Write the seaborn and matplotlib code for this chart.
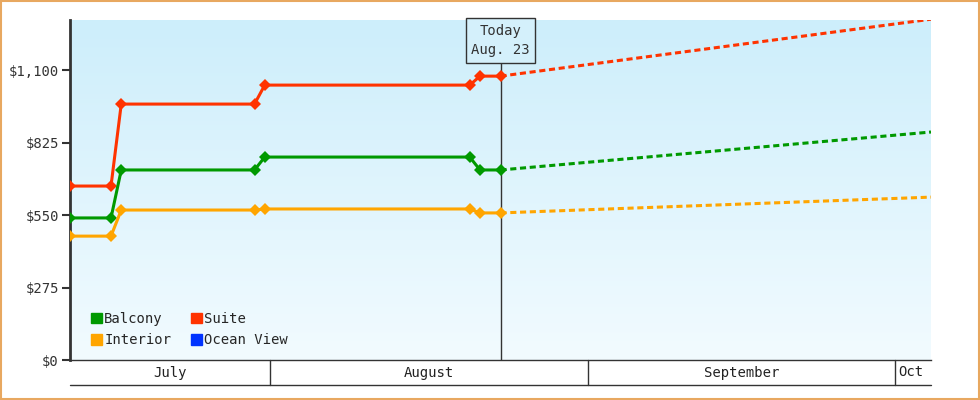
import numpy as np
import pandas as pd
import seaborn as sns
import matplotlib.pyplot as plt
from matplotlib.patches import Rectangle

# days since Aug 1 (+0.5 to center on day)
days = [-20, -16, -15, -2, -1, 19, 20, 22]
suite = [660, 660, 971, 971, 1043, 1043, 1077, 1077]
balcony = [539, 539, 721, 721, 770, 770, 721, 721]
interior = [470, 470, 569, 569, 573, 573, 558, 558]
proj_days = [22, 64]
proj_suite = [1077, 1293]
proj_balcony = [721, 865]
proj_interior = [558, 618]

months = ["July", "August", "September", "Oct"]
month_edges = [-20, 0, 31, 61, 64]
yticks = [0, 275, 550, 825, 1100]

colors = {"Balcony": "#009900", "Interior": "#ffa500", "Suite": "#ff3300", "Ocean View": "#0033ff"}

sns.set_style("white")
plt.rcParams["font.family"] = ["DejaVu Sans Mono"]

df = pd.DataFrame({"day": np.array(days) + 0.5, "Suite": suite,
                   "Balcony": balcony, "Interior": interior})
long = df.melt("day", var_name="cabin", value_name="price")
proj = pd.DataFrame({"day": np.array(proj_days) + 0.5, "Suite": proj_suite,
                     "Balcony": proj_balcony, "Interior": proj_interior})
proj_long = proj.melt("day", var_name="cabin", value_name="price")

fig = plt.figure(figsize=(9.8, 4), dpi=100)
fig.patches.append(Rectangle((0.001, 0.002), 0.998, 0.996, transform=fig.transFigure,
                             fill=False, edgecolor="#e8a860", linewidth=1.5))
ax = fig.add_axes([70 / 980, 40 / 400, 861 / 980, 340 / 400])
x0, x1 = -19.5, 64.5
ymax = 1290
ax.set_xlim(x0, x1)
ax.set_ylim(0, ymax)

grad = np.linspace(1, 0, 256).reshape(-1, 1)
bg = np.array([205, 238, 251]) / 255 * grad[..., None] + np.array([242, 251, 255]) / 255 * (1 - grad[..., None])
ax.imshow(bg, extent=[x0, x1, 0, ymax], aspect="auto", zorder=0)

sns.lineplot(data=proj_long, x="day", y="price", hue="cabin", palette=colors,
             linestyle=(0, (2, 1.2)), linewidth=2.2, legend=False, ax=ax, zorder=2)
sns.lineplot(data=long, x="day", y="price", hue="cabin", palette=colors,
             marker="D", markersize=6, markeredgewidth=0, linewidth=2.2,
             legend=False, ax=ax, zorder=3)

ax.axvline(22.5, color="#333333", linewidth=1, zorder=1)
ax.text(22.5, 1213, "Today\nAug. 23", ha="center", va="center", fontsize=10, color="#333333",
        linespacing=1.5,
        bbox=dict(boxstyle="square,pad=0.4", facecolor="#d4f0fb", edgecolor="#333333", linewidth=1))

ax.set_yticks(yticks)
ax.set_yticklabels([f"${v:,}" for v in yticks], fontsize=10, color="#333333")
ax.set_xticks([])
ax.tick_params(axis="y", direction="out", length=6, width=1.5, color="#333333", pad=2, left=True)
ax.set_xlabel("")
ax.set_ylabel("")
for s in ["top", "right"]:
    ax.spines[s].set_visible(False)
ax.spines["left"].set_linewidth(2)
ax.spines["left"].set_color("#333333")
ax.spines["bottom"].set_linewidth(1)
ax.spines["bottom"].set_color("#333333")

# month band below the axes
band = -25 / 340 * ymax
ax.plot([x0, x1], [band, band], color="#333333", linewidth=1, clip_on=False)
for e in month_edges[1:-1]:
    ax.plot([e, e], [0, band], color="#333333", linewidth=1, clip_on=False)
for m, a, b in zip(months, month_edges[:-1], month_edges[1:]):
    ax.text((max(a, x0) + min(b, x1)) / 2, band / 2, m, ha="center", va="center",
            fontsize=10, color="#222222", clip_on=False)

handles = [Rectangle((0, 0), 1, 1, color=colors[k]) for k in ["Balcony", "Interior", "Suite", "Ocean View"]]
ax.legend(handles, ["Balcony", "Interior", "Suite", "Ocean View"], ncol=2, loc="lower left",
          frameon=False, fontsize=10, handlelength=0.8, handleheight=0.8, handletextpad=0.15,
          columnspacing=1.4, labelspacing=0.55, bbox_to_anchor=(0.01, 0.0))

fig.savefig("out.png", dpi=100)
